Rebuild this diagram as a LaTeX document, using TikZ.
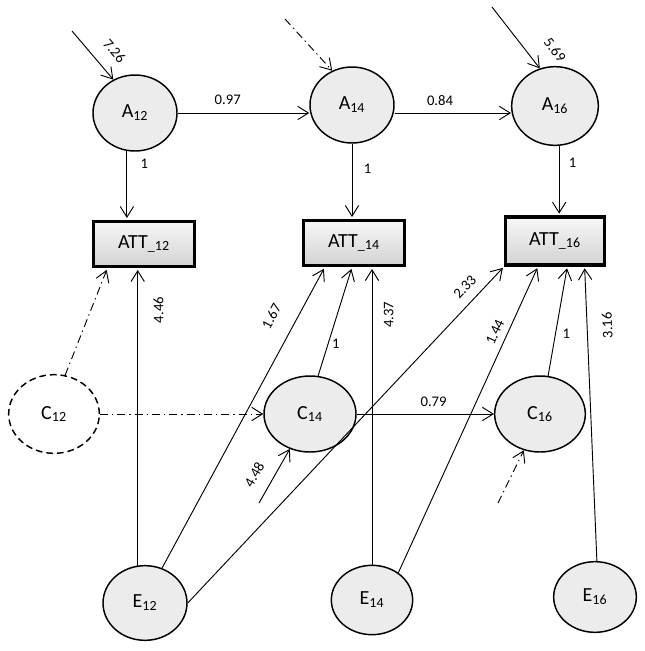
\documentclass[tikz,border=0pt]{standalone}
\usepackage{fontspec}
\setmainfont{Carlito}
\usetikzlibrary{shapes.geometric,calc,shadows}
\usetikzlibrary{arrows.meta}
\tikzset{>={Straight Barb[length=8pt,width=10pt]}}
\tikzset{
  latent/.style={ellipse, draw=black, line width=1.1pt, fill=gray!15, inner sep=0pt,
    minimum width=63pt, minimum height=57pt, font=\fontsize{15}{18}\selectfont},
  ghost/.style={latent, fill=white, dash pattern=on 5pt off 3pt},
  obs/.style={rectangle, draw=black, line width=2.6pt, top color=gray!6, bottom color=gray!35,
    minimum width=76pt, minimum height=34pt, inner sep=0pt, font=\fontsize{15}{18}\selectfont,
    drop shadow={shadow xshift=1.2pt, shadow yshift=-1.2pt, opacity=0.25}},
  link/.style={->, line width=0.7pt},
  dashdot/.style={link, dash pattern=on 6pt off 3pt on 1pt off 3pt},
  tobox/.style={shorten >=1.2pt},
  wt/.style={font=\fontsize{11}{13}\selectfont, inner sep=2pt},
}

\begin{document}
\begin{tikzpicture}[x=0.75pt, y=-0.75pt]
            \useasboundingbox (0,0) rectangle (645,651);
            % latent variables
            \node[latent] (A12) at (135,113) {A\textsubscript{12}};
            \node[latent] (A14) at (352,105) {A\textsubscript{14}};
            \node[latent, minimum width=65pt, minimum height=59pt] (A16) at (555,106) {A\textsubscript{16}};
            \node[ghost, minimum width=68pt, minimum height=59pt] (C12) at (54,414) {C\textsubscript{12}};
            \node[latent, minimum width=69pt] (C14) at (310,414) {C\textsubscript{14}};
            \node[latent, minimum width=68pt] (C16) at (540,414) {C\textsubscript{16}};
            \node[latent, minimum width=63pt, minimum height=56pt] (E12) at (145,603) {E\textsubscript{12}};
            \node[latent, minimum width=61pt, minimum height=52pt] (E14) at (372,600) {E\textsubscript{14}};
            \node[latent, minimum width=62pt, minimum height=53pt] (E16) at (595,597) {E\textsubscript{16}};
            % observed
            \node[obs] (ATT12) at (144,244) {ATT\textsubscript{\_12}};
            \node[obs] (ATT14) at (354,243) {ATT\textsubscript{\_14}};
            \node[obs, minimum width=74pt, minimum height=36pt] (ATT16) at (555,241) {ATT\textsubscript{\_16}};
            % free ends
            \coordinate (eA12) at (72,31);
            \coordinate (eA14) at (285,19);
            \coordinate (eA16) at (492,7);
            \coordinate (eC14) at (259,503);
            \coordinate (eC16) at (498,503);

            \draw[link] (eA12) -- (A12.123) node[wt, pos=0.67, above=8.5pt, sloped] {7.26};
            \draw[dashdot] (eA14) -- (A14.120);
            \draw[link] (eA16) -- (A16.112) node[wt, pos=0.93, above=11.5pt, sloped] {5.69};
            \draw[link] (A12.east) -- (A12.east -| A14.west) node[wt, pos=0.38, above=4pt] {0.97};
            \draw[link] (A14.east |- A12.east) -- (A12.east -| A16.west) node[wt, pos=0.39, above=3pt] {0.84};
            \draw[link, tobox] (A12.258) -- (A12.258 |- ATT12.north) node[wt, pos=0.18, right=8pt] {1};
            \draw[link, tobox] (A14.south) -- (A14.south |- ATT14.north) node[wt, pos=0.33, right=6.5pt] {1};
            \draw[link, tobox] (A16.276) -- (A16.276 |- ATT16.north) node[wt, pos=0.24, right=5pt] {1};

            \draw[dashdot, tobox] (C12.74) -- ($(ATT12.south west)!0.15!(ATT12.south east)$);
            \draw[dashdot] (C12.east) -- (C14.west);
            \draw[link] (C14.east) -- (C16.west) node[wt, pos=0.56, above=3pt] {0.79};
            \draw[link, tobox] (C14.78) -- ($(ATT14.south west)!0.48!(ATT14.south east)$) node[wt, pos=0.3, right=0.5pt] {1};
            \draw[link, tobox] (C16.78) -- ($(ATT16.south west)!0.62!(ATT16.south east)$) node[wt, pos=0.39, right=3pt] {1};
            \draw[link] (eC14) -- (C14.240) node[wt, pos=0.36, above=7.5pt, sloped] {4.48};
            \draw[dashdot] (eC16) -- (C16.246);

            \draw[link, tobox] (E12.101) -- (E12.101 |- ATT12.south) node[wt, pos=0.86, xshift=9.5pt, rotate=90, anchor=north] {4.46};
            \draw[link, tobox] (E12.64) -- ($(ATT14.south west)!0.22!(ATT14.south east)$) node[wt, pos=0.8, above=11.5pt, sloped] {1.67};
            \draw[link, tobox] (E12.east) -- (ATT16.south west) node[wt, pos=0.91, above=5pt, sloped] {2.33};
            \draw[link, tobox] (E14.north) -- (E14.north |- ATT14.south) node[wt, pos=0.84, xshift=6.5pt, rotate=90, anchor=north] {4.37};
            \draw[link, tobox] (E14.46) -- ($(ATT16.south west)!0.333!(ATT16.south east)$) node[wt, pos=0.77, above=3pt, sloped] {1.44};
            \draw[link, tobox] (E16.87) -- ($(ATT16.south west)!0.79!(ATT16.south east)$) node[wt, pos=0.8, xshift=9pt, rotate=92, anchor=north] {3.16};
        \end{tikzpicture}
\end{document}
